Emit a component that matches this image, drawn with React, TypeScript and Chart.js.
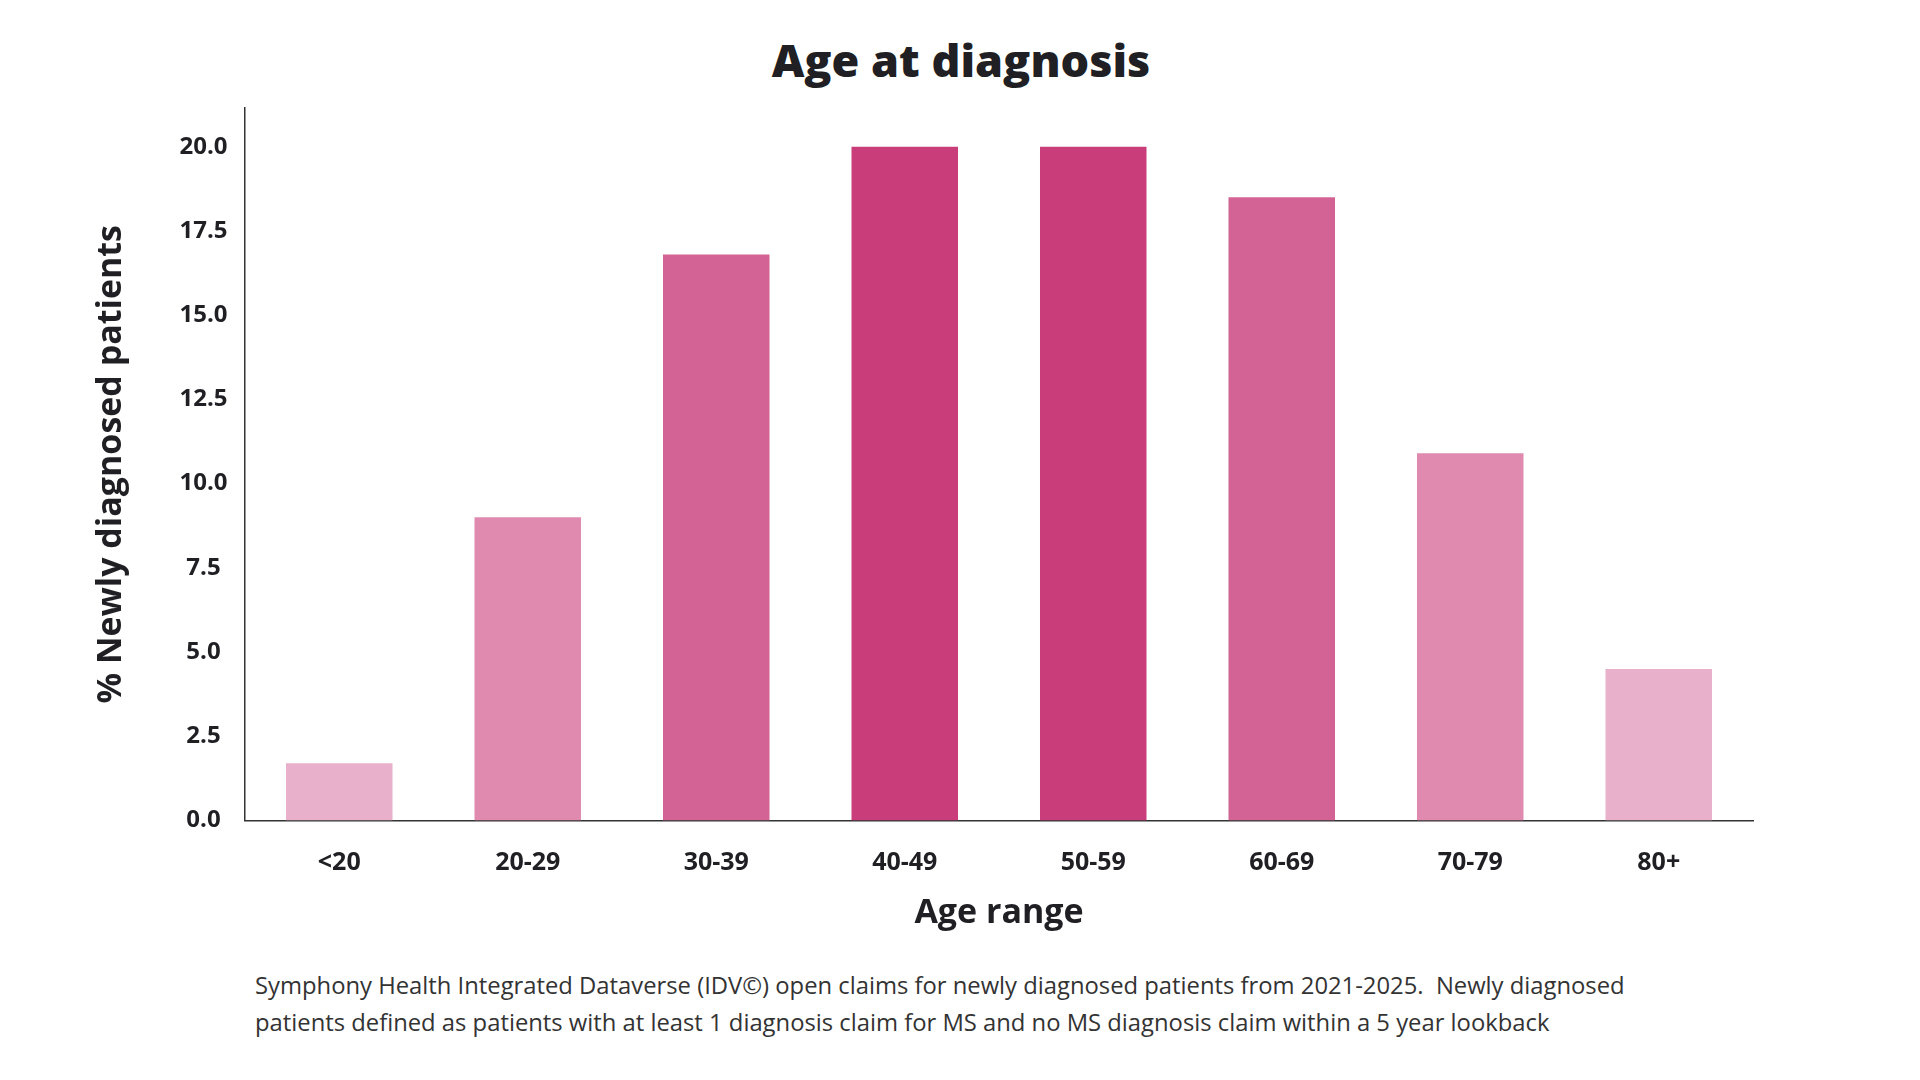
import React, { useEffect, useRef } from "react";
import { Chart, registerables } from "chart.js";

Chart.register(...registerables);

const categories = ["<20", "20-29", "30-39", "40-49", "50-59", "60-69", "70-79", "80+"];
const percentValues = [1.7, 9.0, 16.8, 20.0, 20.0, 18.5, 10.9, 4.5];
const barColors = ["#e8b0ca", "#df8aae", "#d46395", "#c93d7a", "#c93d7a", "#d46395", "#df8aae", "#e8b0ca"];
const chartTitle = "Age at diagnosis";
const yAxisTitle = "% Newly diagnosed patients";
const xAxisTitle = "Age range";
const footnoteLines = [
  "Symphony Health Integrated Dataverse (IDV©) open claims for newly diagnosed patients from 2021-2025.  Newly diagnosed",
  "patients defined as patients with at least 1 diagnosis claim for MS and no MS diagnosis claim within a 5 year lookback",
];

const FONT = "'Open Sans', 'Noto Sans', sans-serif";
const TEXT = "#1f1f24";

export default function App() {
  const canvasRef = useRef<HTMLCanvasElement | null>(null);

  useEffect(() => {
    const canvas = canvasRef.current;
    if (!canvas) return;
    const chart = new Chart(canvas, {
      type: "bar",
      data: {
        labels: categories,
        datasets: [
          {
            data: percentValues,
            backgroundColor: barColors,
            borderWidth: 0,
            barPercentage: 0.565,
            categoryPercentage: 1,
          },
        ],
      },
      options: {
        animation: false,
        responsive: false,
        maintainAspectRatio: false,
        layout: { padding: { top: 108, right: 167, left: 86.6, bottom: 22.5 } },
        plugins: {
          legend: { display: false },
          tooltip: { enabled: false },
          title: { display: false },
        },
        scales: {
          x: {
            afterFit: (scale: any) => {
              scale.height = 117;
            },
            grid: { display: false, drawTicks: false },
            border: { display: true, color: "#333333", width: 1.5 },
            ticks: {
              color: TEXT,
              padding: 27,
              font: { family: FONT, size: 25, weight: "bold" },
            },
            title: {
              display: true,
              text: xAxisTitle,
              color: TEXT,
              padding: { top: 10, bottom: 4 },
              font: { family: FONT, size: 34, weight: "bold" },
            },
          },
          y: {
            min: 0,
            max: 21.15,
            afterFit: (scale: any) => {
              scale.width = 158.4;
            },
            grid: { display: false, drawTicks: false },
            border: { display: true, color: "#333333", width: 1.5 },
            ticks: {
              stepSize: 2.5,
              includeBounds: false,
              color: TEXT,
              padding: 17.5,
              crossAlign: "center",
              font: { family: FONT, size: 24, weight: "bold" },
              callback: (v: any) => Number(v).toFixed(1),
            },
            title: {
              display: true,
              text: yAxisTitle,
              color: TEXT,
              padding: { top: 4, bottom: 10 },
              font: { family: FONT, size: 34, weight: "bold" },
            },
          },
        },
      },
    });
    return () => chart.destroy();
  }, []);

  return (
    <div style={{ position: "fixed", left: 0, top: 0, width: 1920, height: 1080, background: "#ffffff", overflow: "hidden" }}>
      <div
        style={{
          position: "absolute",
          left: 0,
          top: 32.5,
          width: 1922,
          textAlign: "center",
          fontFamily: FONT,
          fontWeight: 800,
          fontSize: 45,
          lineHeight: 1.2,
          color: TEXT,
        }}
      >
        {chartTitle}
      </div>
      <canvas ref={canvasRef} width={1920} height={960} style={{ position: "absolute", left: 0, top: 0, width: 1920, height: 960 }} />
      <div
        style={{
          position: "absolute",
          left: 255,
          top: 967.2,
          fontFamily: FONT,
          fontSize: 23.8,
          lineHeight: "37px",
          color: "#333333",
          whiteSpace: "pre",
        }}
      >
        {footnoteLines[0]}
        <br />
        {footnoteLines[1]}
      </div>
    </div>
  );
}
